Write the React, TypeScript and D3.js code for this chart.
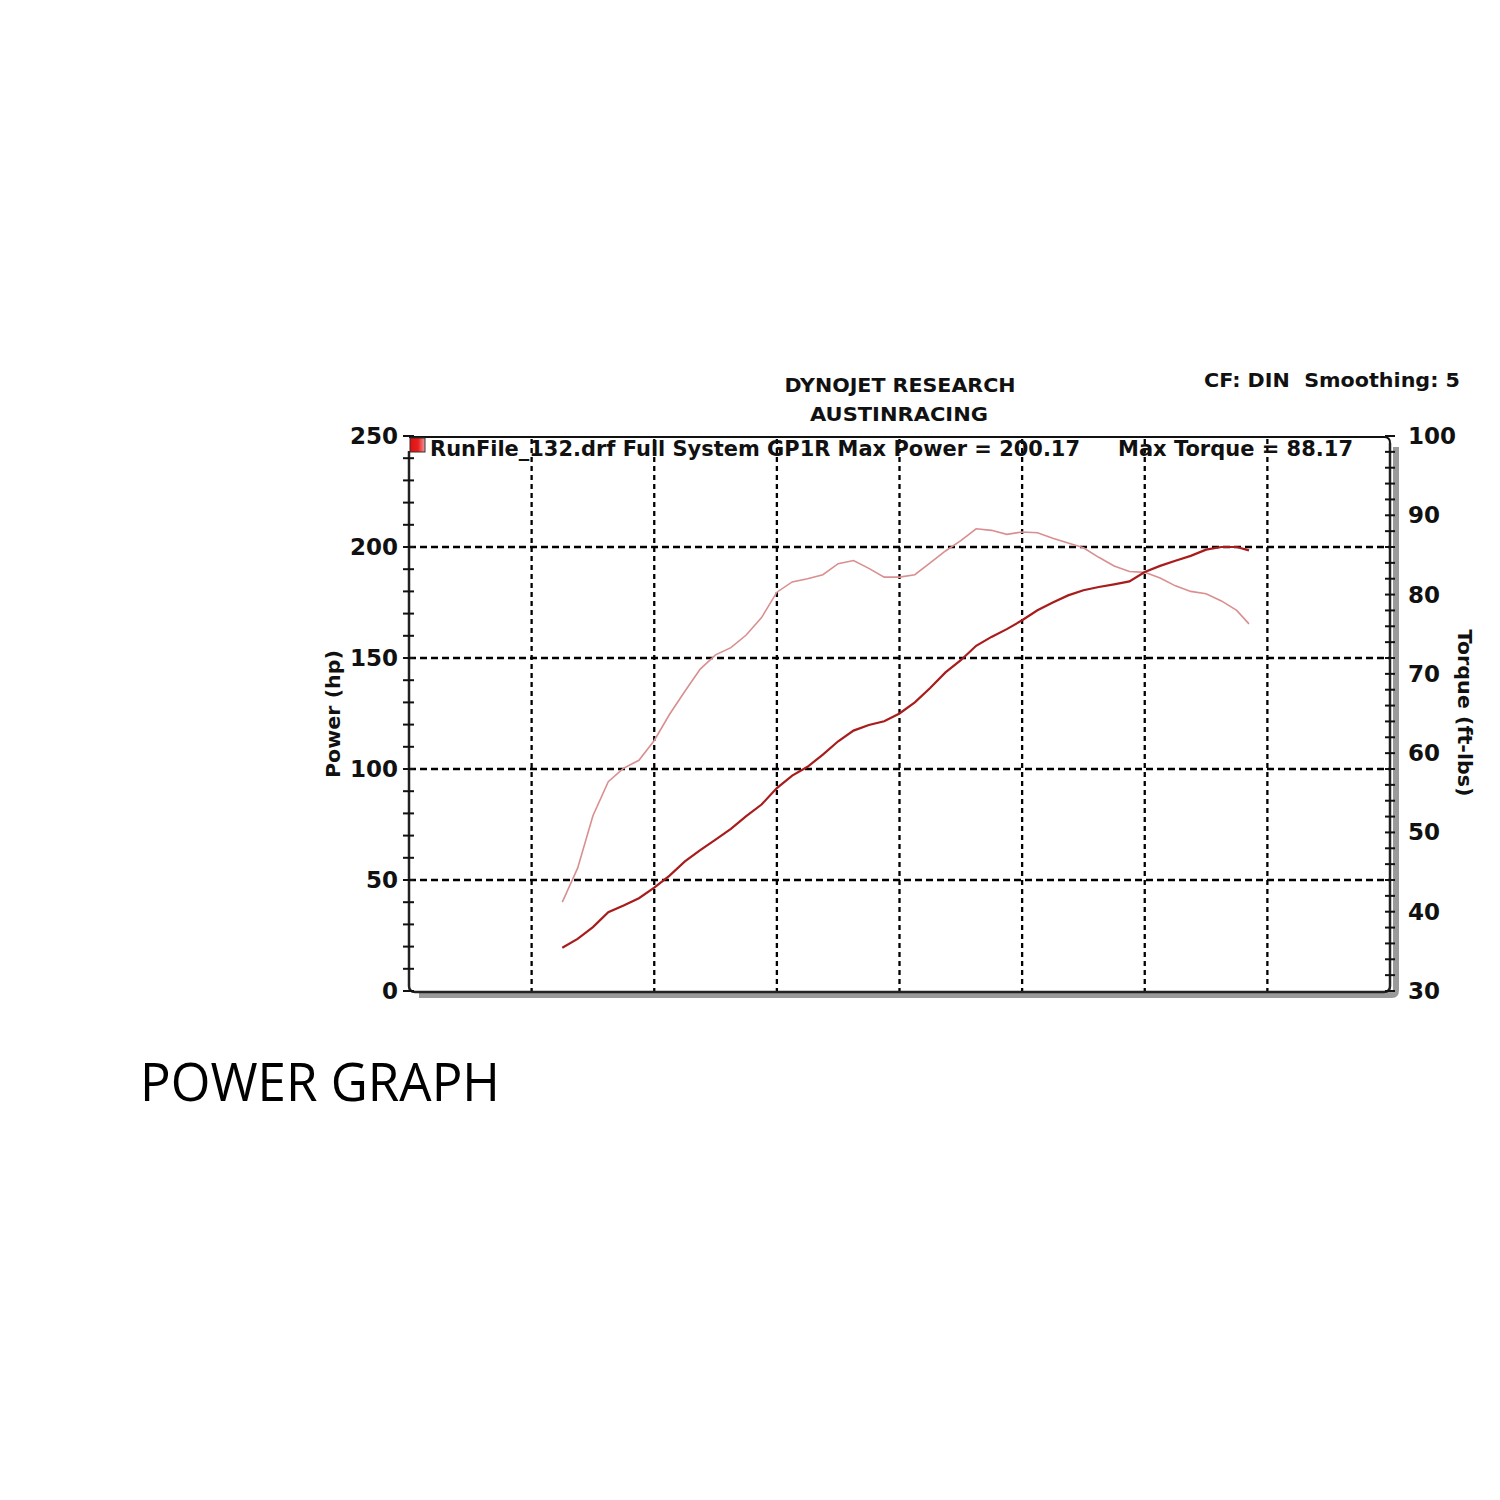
import React from "react";
import * as d3 from "d3";

const rpm = [4500, 4750, 5000, 5250, 5500, 5750, 6000, 6250, 6500, 6750, 7000, 7250, 7500, 7750, 8000, 8250, 8500, 8750, 9000, 9250, 9500, 9750, 10000, 10250, 10500, 10750, 11000, 11250, 11500, 11750, 12000, 12250, 12500, 12750, 13000, 13250, 13500, 13750, 14000, 14250, 14500, 14750, 15000, 15250, 15500, 15700];
const powerHp = [19.5, 23.5, 28.8, 35.5, 38.5, 41.8, 46.6, 52, 58.4, 63.5, 68.2, 73, 78.8, 84, 91.4, 97, 101, 106.5, 112.5, 117.3, 119.8, 121.5, 125, 130, 136.5, 143.5, 149, 155.5, 159.5, 163, 167, 171.5, 175, 178.2, 180.5, 182, 183.2, 184.5, 188.7, 191.5, 193.8, 196, 198.8, 200, 200, 198.5];
const torqueFtLbs = [41.2, 45.5, 52.1, 56.4, 58.1, 59.1, 61.6, 64.9, 67.8, 70.6, 72.4, 73.3, 74.9, 77.1, 80.3, 81.6, 82, 82.5, 83.9, 84.3, 83.3, 82.2, 82.2, 82.5, 84, 85.5, 86.8, 88.3, 88.1, 87.6, 87.9, 87.8, 87.1, 86.5, 85.9, 84.7, 83.6, 82.9, 82.8, 82.1, 81.1, 80.4, 80.1, 79.2, 78, 76.3];

const powerTicks = [0, 50, 100, 150, 200, 250];
const torqueTicks = [30, 40, 50, 60, 70, 80, 90, 100];
const rpmGrid = [4000, 6000, 8000, 10000, 12000, 14000, 16000];

const titleLines = ["DYNOJET RESEARCH", "AUSTINRACING"];
const infoText = "CF: DIN  Smoothing: 5";
const legendText = "RunFile_132.drf Full System GP1R Max Power = 200.17";
const legendTorque = "Max Torque = 88.17";
const caption = "POWER GRAPH";

export default function App() {
  const L = 409, R = 1390, T = 437, B = 992;
  const x = d3.scaleLinear().domain([2000, 18000]).range([L, R]);
  const yP = d3.scaleLinear().domain([0, 250]).range([991, 436]);
  const yT = d3.scaleLinear().domain([30, 100]).range([991, 436]);

  const pData = rpm.map((r, i) => [r, powerHp[i]] as [number, number]);
  const tData = rpm.map((r, i) => [r, torqueFtLbs[i]] as [number, number]);
  const lineP = d3.line<[number, number]>().x(d => x(d[0])).y(d => yP(d[1]));
  const lineT = d3.line<[number, number]>().x(d => x(d[0])).y(d => yT(d[1]));

  const minorP = d3.range(0, 251, 10);
  const minorT = d3.range(30, 101, 2);
  const font = "'DejaVu Sans', Verdana, sans-serif";

  return (
    <svg width={1500} height={1500} style={{ position: "absolute", left: 0, top: 0, background: "#fff" }}>
      <defs>
        <linearGradient id="lg" x1="0" x2="1" y1="0" y2="0">
          <stop offset="0" stopColor="#e01010" />
          <stop offset="0.55" stopColor="#e82020" />
          <stop offset="1" stopColor="#f59a9a" />
        </linearGradient>
      </defs>
      <rect width={1500} height={1500} fill="#fff" />

      {/* titles */}
      <text x={900} y={392} textAnchor="middle" fontFamily={font} fontWeight="bold" fontSize={20} fill="#111" textLength={231} lengthAdjust="spacingAndGlyphs">{titleLines[0]}</text>
      <text x={899} y={421} textAnchor="middle" fontFamily={font} fontWeight="bold" fontSize={20} fill="#111" textLength={178} lengthAdjust="spacingAndGlyphs">{titleLines[1]}</text>
      <text x={1460} y={387} textAnchor="end" fontFamily={font} fontWeight="bold" fontSize={20} fill="#111" textLength={256} lengthAdjust="spacingAndGlyphs" style={{ whiteSpace: "pre" }}>{infoText}</text>

      {/* shadows */}
      <path d={`M${L + 10},${B + 3} L${R + 2},${B + 3} Q${R + 6},${B + 3} ${R + 6},${B - 2} L${R + 6},${T + 10}`} fill="none" stroke="#9a9a9a" strokeWidth={6} />

      {/* grid */}
      {rpmGrid.map(g => (
        <line key={"v" + g} x1={x(g)} x2={x(g)} y1={T + 2} y2={B} stroke="#000" strokeWidth={2.3} strokeDasharray="5,4" />
      ))}
      {powerTicks.filter(v => v > 0 && v < 250).map(v => (
        <line key={"h" + v} x1={L} x2={R} y1={yP(v)} y2={yP(v)} stroke="#000" strokeWidth={2.3} strokeDasharray="7,4" />
      ))}

      {/* frame */}
      <path d={`M${L},${T} L${R - 6},${T} Q${R},${T} ${R},${T + 6}`} fill="none" stroke="#111" strokeWidth={2} />
      <path d={`M${L},${T + 14} L${L},${B - 6} Q${L},${B} ${L + 6},${B} L${R - 6},${B} Q${R},${B} ${R},${B - 6} L${R},${T + 6}`} fill="none" stroke="#222" strokeWidth={2.5} />

      {/* ticks */}
      {minorP.map(v => (
        <line key={"lt" + v} x1={L - 6} x2={L + 5} y1={yP(v)} y2={yP(v)} stroke="#111" strokeWidth={2} />
      ))}
      {minorT.map(v => (
        <line key={"rt" + v} x1={R - 5} x2={R + 5} y1={yT(v)} y2={yT(v)} stroke="#111" strokeWidth={2} />
      ))}

      {/* tick labels */}
      {powerTicks.map(v => (
        <text key={"pl" + v} x={398} y={yP(v) + 8} textAnchor="end" fontFamily={font} fontWeight="bold" fontSize={23} fill="#111">{v}</text>
      ))}
      {torqueTicks.map(v => (
        <text key={"tl" + v} x={1408} y={yT(v) + 8} textAnchor="start" fontFamily={font} fontWeight="bold" fontSize={23} fill="#111">{v}</text>
      ))}

      {/* axis titles */}
      <text transform={`translate(340,714) rotate(-90)`} textAnchor="middle" fontFamily={font} fontWeight="bold" fontSize={19} fill="#111" textLength={128} lengthAdjust="spacingAndGlyphs">Power (hp)</text>
      <text transform={`translate(1458,713) rotate(90)`} textAnchor="middle" fontFamily={font} fontWeight="bold" fontSize={19} fill="#111" textLength={167} lengthAdjust="spacingAndGlyphs">Torque (ft-lbs)</text>

      {/* curves */}
      <path d={lineT(tData) || ""} fill="none" stroke="#d98f8f" strokeWidth={1.6} />
      <path d={lineP(pData) || ""} fill="none" stroke="#a81c1c" strokeWidth={2.2} />

      {/* legend */}
      <rect x={410} y={438} width={15} height={14} fill="url(#lg)" stroke="#333" strokeWidth={1} />
      <text x={430} y={456} fontFamily={font} fontWeight="bold" fontSize={21} fill="#111" textLength={650} lengthAdjust="spacingAndGlyphs">{legendText}</text>
      <text x={1118} y={456} fontFamily={font} fontWeight="bold" fontSize={21} fill="#111" textLength={235} lengthAdjust="spacingAndGlyphs">{legendTorque}</text>

      {/* caption */}
      <text x={140} y={1101} fontFamily="'Open Sans', 'Noto Sans', sans-serif" fontSize={53} fill="#000" textLength={360} lengthAdjust="spacingAndGlyphs">{caption}</text>
    </svg>
  );
}
